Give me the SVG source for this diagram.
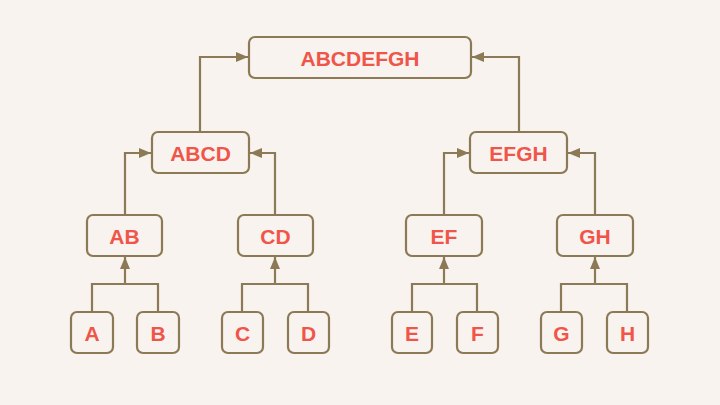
<svg xmlns="http://www.w3.org/2000/svg" width="720" height="405" viewBox="0 0 720 405">
<defs>
<marker id="arr" viewBox="0 0 12 10" refX="12" refY="5" markerWidth="12" markerHeight="10" markerUnits="userSpaceOnUse" orient="auto">
<path d="M0,0 L12,5 L0,10 Z" fill="#8B7A55"/>
</marker>
<style>
.n rect{fill:#F8F3EF;stroke:#8B7A55;stroke-width:2.2}
.n text{fill:#F0554A;font-family:"Liberation Sans",Arial,sans-serif;font-weight:bold;font-size:21px;text-anchor:middle;dominant-baseline:central}
.c path{fill:none;stroke:#8B7A55;stroke-width:2.2}
.c .a{marker-end:url(#arr)}
</style>
</defs>
<rect width="720" height="405" fill="#F8F3EF"/>
<g class="c">
<path class="a" d="M200,132 V57 H248"/>
<path class="a" d="M519,132 V57 H472"/>
<path class="a" d="M125,215 V153 H151"/>
<path class="a" d="M275,215 V153 H250"/>
<path class="a" d="M444,215 V153 H469"/>
<path class="a" d="M595,215 V153 H568"/>
<path d="M92,312 V284 H158 V312"/>
<path class="a" d="M125,284 V257"/>
<path d="M242,312 V284 H308 V312"/>
<path class="a" d="M275,284 V257"/>
<path d="M412,312 V284 H477 V312"/>
<path class="a" d="M444,284 V257"/>
<path d="M561,312 V284 H627 V312"/>
<path class="a" d="M595,284 V257"/>
</g>
<g id="ABCDEFGH" class="n"><rect x="249" y="37" width="222" height="41" rx="6"/><text x="360" y="58">ABCDEFGH</text></g>
<g id="ABCD" class="n"><rect x="152" y="132" width="97" height="41" rx="6"/><text x="200.5" y="153">ABCD</text></g>
<g id="EFGH" class="n"><rect x="470" y="132" width="97" height="41" rx="6"/><text x="518.5" y="153">EFGH</text></g>
<g id="AB" class="n"><rect x="87" y="215" width="75" height="41" rx="6"/><text x="124.5" y="236">AB</text></g>
<g id="CD" class="n"><rect x="238" y="215" width="75" height="41" rx="6"/><text x="275.5" y="236">CD</text></g>
<g id="EF" class="n"><rect x="406" y="215" width="76" height="41" rx="6"/><text x="444" y="236">EF</text></g>
<g id="GH" class="n"><rect x="557" y="215" width="76" height="41" rx="6"/><text x="595" y="236">GH</text></g>
<g id="A" class="n"><rect x="71" y="312" width="42" height="41" rx="6"/><text x="92" y="333">A</text></g>
<g id="B" class="n"><rect x="137" y="312" width="42" height="41" rx="6"/><text x="158" y="333">B</text></g>
<g id="C" class="n"><rect x="222" y="312" width="41" height="41" rx="6"/><text x="242.5" y="333">C</text></g>
<g id="D" class="n"><rect x="288" y="312" width="41" height="41" rx="6"/><text x="308.5" y="333">D</text></g>
<g id="E" class="n"><rect x="392" y="312" width="40" height="41" rx="6"/><text x="412" y="333">E</text></g>
<g id="F" class="n"><rect x="457" y="312" width="41" height="41" rx="6"/><text x="477.5" y="333">F</text></g>
<g id="G" class="n"><rect x="541" y="312" width="41" height="41" rx="6"/><text x="561.5" y="333">G</text></g>
<g id="H" class="n"><rect x="607" y="312" width="41" height="41" rx="6"/><text x="627.5" y="333">H</text></g>
</svg>
